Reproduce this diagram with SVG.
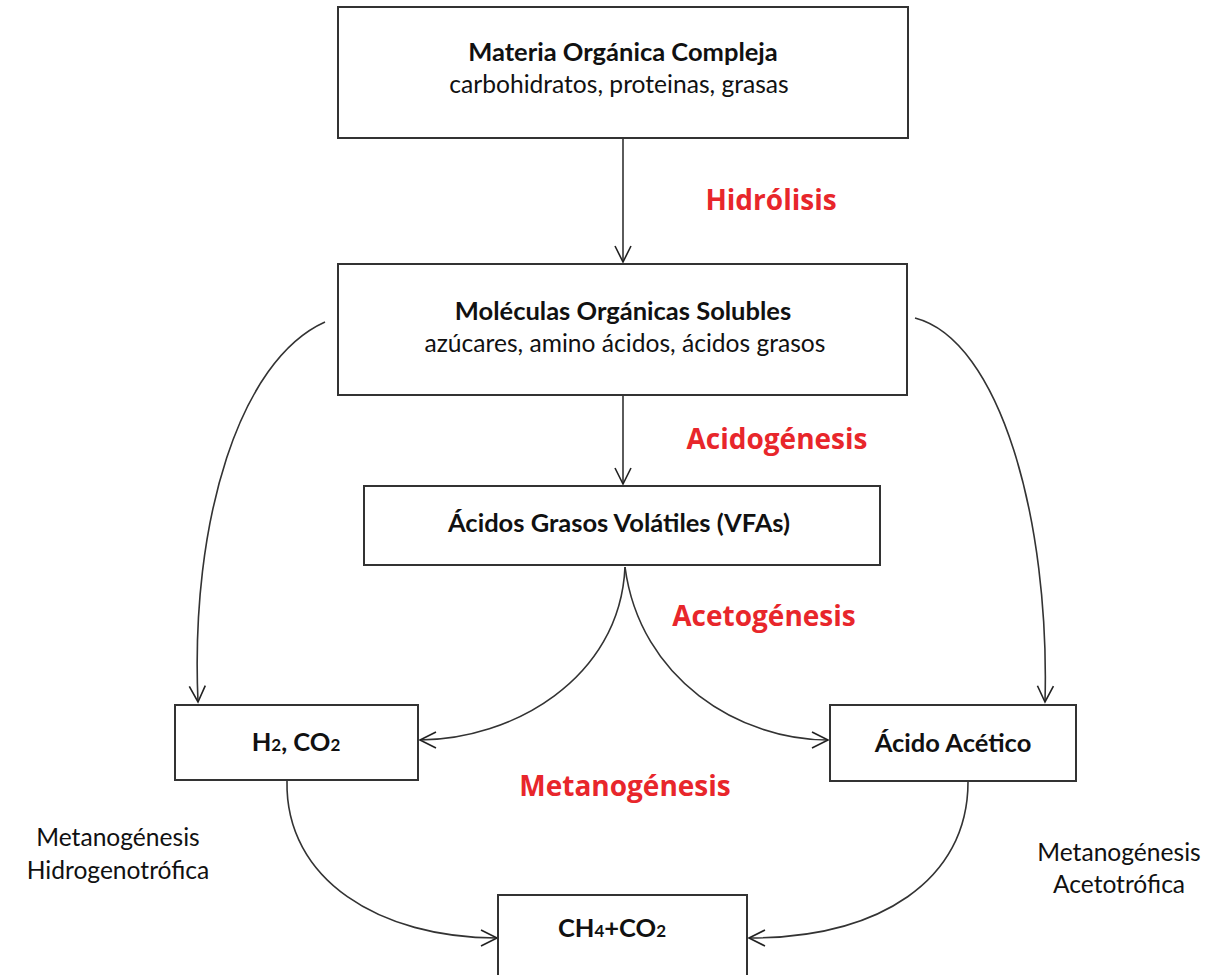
<svg xmlns="http://www.w3.org/2000/svg" width="1230" height="975" viewBox="0 0 1230 975">
<defs>
<marker id="arr" viewBox="0 0 20 20" refX="18" refY="10" markerWidth="20" markerHeight="20" markerUnits="userSpaceOnUse" orient="auto">
<path d="M2,2 L18,10 L2,18" fill="none" stroke="#222" stroke-width="1.6"/>
</marker>
</defs>
<style>
.box{fill:#fff;stroke:#333;stroke-width:2}
.t{font-family:Lato,"Open Sans","Liberation Sans",sans-serif;fill:#111;text-anchor:middle}
.b{font-weight:bold;font-size:25.5px}
.r{font-size:24.6px}
.red{font-family:"Open Sans","Liberation Sans",sans-serif;font-weight:bold;font-size:28px;fill:#e8262b;text-anchor:middle}
.c{fill:none;stroke:#333;stroke-width:1.6;marker-end:url(#arr)}
</style>
<rect width="1230" height="975" fill="#fff"/>
<g id="connectors">
<path class="c" d="M623,138 L623,262"/>
<path class="c" d="M623,395 L623,484"/>
<path class="c" d="M325,322 C240,360 190,520 198,702"/>
<path class="c" d="M915,318 C1000,340 1050,520 1045,702"/>
<path class="c" d="M625,567 C620,680 510,740 420,740"/>
<path class="c" d="M625,567 C640,680 740,740 828,740"/>
<path class="c" d="M287,781 C285,880 380,938 497,938"/>
<path class="c" d="M968,782 C968,880 880,938 749,938"/>
</g>
<g id="n1"><rect class="box" x="338" y="7" width="570" height="131"/>
<text class="t b" x="623" y="61">Materia Orgánica Compleja</text>
<text class="t r" x="619" y="93">carbohidratos, proteinas, grasas</text></g>
<g id="n2"><rect class="box" x="338" y="264" width="569" height="131"/>
<text class="t b" x="623" y="320">Moléculas Orgánicas Solubles</text>
<text class="t r" x="625" y="352">azúcares, amino ácidos, ácidos grasos</text></g>
<g id="n3"><rect class="box" x="364" y="486" width="516" height="79"/>
<text class="t b" x="619" y="532">Ácidos Grasos Volátiles (VFAs)</text></g>
<g id="n4"><rect class="box" x="175" y="705" width="243" height="75"/>
<text class="t b" x="296" y="751">H<tspan font-size="17">2</tspan>, CO<tspan font-size="17">2</tspan></text></g>
<g id="n5"><rect class="box" x="830" y="705" width="246" height="76"/>
<text class="t b" x="953" y="752">Ácido Acético</text></g>
<g id="n6"><rect class="box" x="498" y="895" width="249" height="90"/>
<text class="t b" x="612" y="937">CH<tspan font-size="17">4</tspan>+CO<tspan font-size="17">2</tspan></text></g>
<g id="labels">
<text class="red" x="771" y="210">Hidrólisis</text>
<text class="red" x="777" y="449">Acidogénesis</text>
<text class="red" x="764" y="626">Acetogénesis</text>
<text class="red" x="625" y="796">Metanogénesis</text>
<text class="t r" x="118" y="846">Metanogénesis</text>
<text class="t r" x="118" y="879">Hidrogenotrófica</text>
<text class="t r" x="1119" y="861">Metanogénesis</text>
<text class="t r" x="1119" y="893">Acetotrófica</text>
</g>
</svg>
